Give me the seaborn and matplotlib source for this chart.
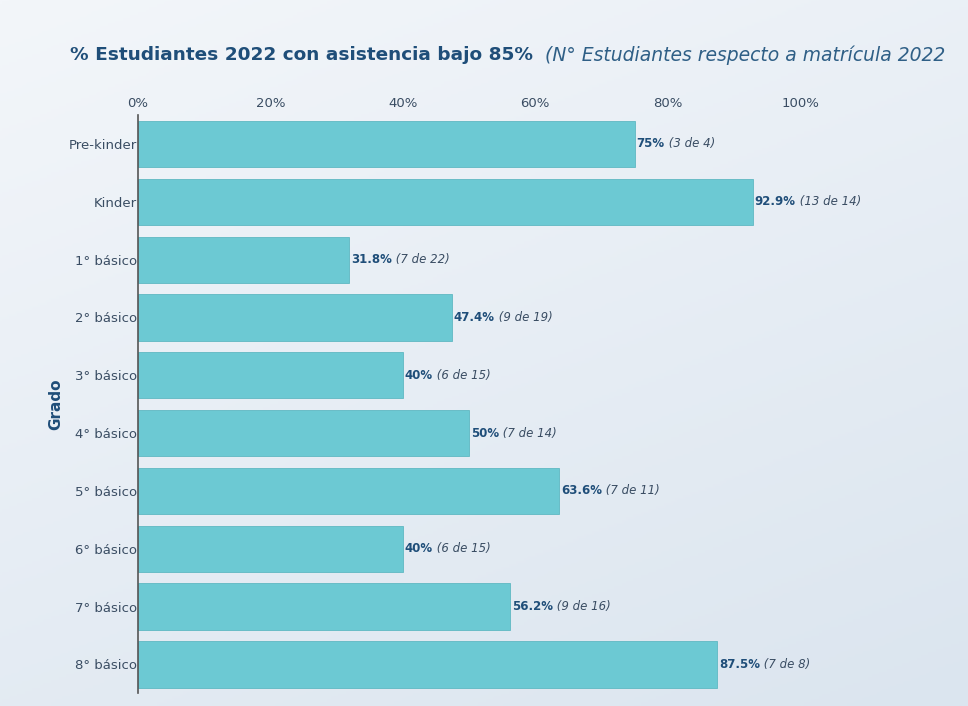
import numpy as np
import pandas as pd
import seaborn as sns
import matplotlib.pyplot as plt

# Datos
grados = ["Pre-kinder", "Kinder", "1° básico", "2° básico", "3° básico",
          "4° básico", "5° básico", "6° básico", "7° básico", "8° básico"]
bajo85 = [3, 13, 7, 9, 6, 7, 7, 6, 9, 7]
matricula = [4, 14, 22, 19, 15, 14, 11, 15, 16, 8]
pctLabels = ["75%", "92.9%", "31.8%", "47.4%", "40%", "50%", "63.6%", "40%", "56.2%", "87.5%"]
xTicks = [0, 20, 40, 60, 80, 100]

df = pd.DataFrame({"Grado": grados, "n": bajo85, "total": matricula})
df["pct"] = df["n"] / df["total"] * 100

# Estilo
textColor = "#3a4d63"
titleColor = "#1f4e79"
barColor = "#6cc9d3"

sns.set_style("white")
plt.rcParams["font.family"] = ["DejaVu Sans"]

fig = plt.figure(figsize=(9.68, 7.06), dpi=100)
fig.patch.set_facecolor("#eef2f7")

# fondo con degradado suave
bg = fig.add_axes([0, 0, 1, 1], zorder=-10)
grad = np.linspace(0, 1, 256)
gx, gy = np.meshgrid(grad, grad)
bgImg = 0.35 * gx + 0.65 * gy
bg.imshow(bgImg, cmap=sns.blend_palette(["#f3f6fa", "#dbe5ef"], as_cmap=True),
          aspect="auto", extent=[0, 1, 0, 1], origin="upper")
bg.axis("off")

ax = fig.add_axes([0.1426, 0.018, 0.855, 0.819])
ax.patch.set_alpha(0)

sns.barplot(data=df, x="pct", y="Grado", color=barColor, saturation=1,
            width=0.8, ax=ax, edgecolor="#5fb8c2", linewidth=0.6)

ax.set_xlim(0, 125)
ax.xaxis.tick_top()
ax.set_xticks(xTicks)
ax.set_xticklabels([f"{t}%" for t in xTicks], color=textColor, fontsize=9.5)
ax.tick_params(axis="both", length=0, pad=4)
ax.tick_params(axis="y", pad=1)
for lab in ax.get_yticklabels():
    lab.set_color(textColor)
    lab.set_fontsize(9.5)
ax.set_xlabel("")
ax.set_ylabel("Grado", color=titleColor, fontsize=11, fontweight="bold")
ax.yaxis.set_label_coords(-0.09, 0.5)

for s in ["top", "right", "bottom"]:
    ax.spines[s].set_visible(False)
ax.spines["left"].set_color("#555555")
ax.spines["left"].set_linewidth(1.2)

# etiquetas de barras
for i, row in df.iterrows():
    t1 = ax.text(row["pct"] + 0.3, i, pctLabels[i], va="center", ha="left",
                 fontsize=8.5, fontweight="bold", color=titleColor)
    ax.annotate(f" ({row['n']} de {row['total']})", xy=(1, 0.5), xycoords=t1,
                va="center", ha="left", fontsize=8.5, fontstyle="italic", color=textColor)

# título
t = fig.text(0.072, 0.922, "% Estudiantes 2022 con asistencia bajo 85%",
             fontsize=13.3, fontweight="bold", color=titleColor, va="center")
ax.annotate("  (N° Estudiantes respecto a matrícula 2022", xy=(1, 0.5), xycoords=t,
            va="center", ha="left", fontsize=13.5, fontstyle="italic",
            color="#2f5f86", annotation_clip=False)

fig.savefig("out.png", dpi=100)
